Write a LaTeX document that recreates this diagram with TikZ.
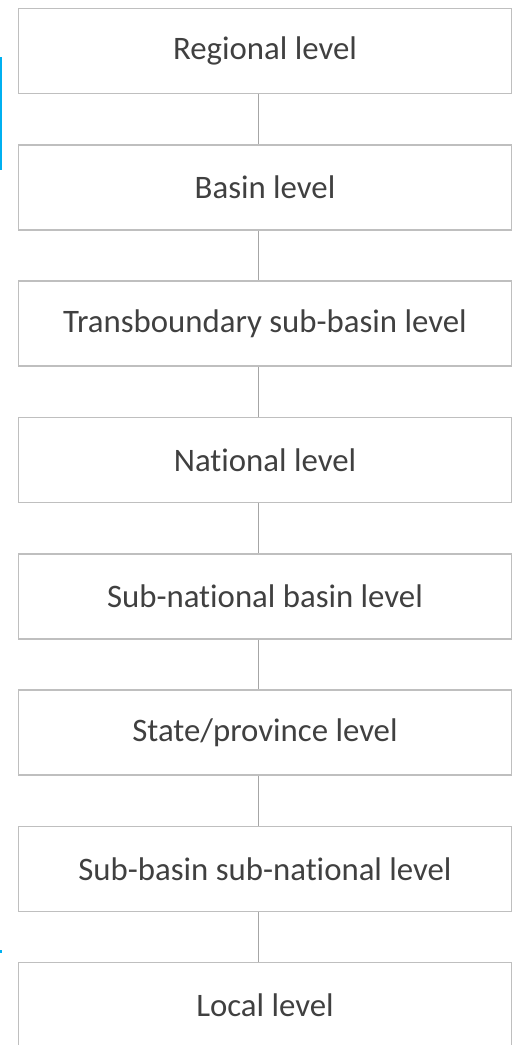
\documentclass[tikz,border=0pt]{standalone}
\usepackage{fontspec}
\setmainfont{Carlito}[Ligatures=NoCommon]
\definecolor{boxline}{HTML}{BFBFBF}
\definecolor{linkline}{HTML}{A6A6A6}
\definecolor{lvltext}{HTML}{404040}
\definecolor{selbar}{HTML}{00B0F0}
\begin{document}
\begin{tikzpicture}[x=1pt,y=-1pt]
  \useasboundingbox (0,0) rectangle (513,1045);
  \tikzset{lvl/.style={draw=boxline,line width=1.6pt,rectangle,minimum width=493pt,minimum height=85pt,
      inner sep=0pt,text=lvltext,font=\fontsize{32.8}{38}\selectfont}}
  \node[lvl] (reg) at (265,51) {Regional level};
  \node[lvl] (bas) at (265,187.3) {Basin level};
  \node[lvl] (tbs) at (265,323.6) {Transboundary sub-basin level};
  \node[lvl] (nat) at (265,459.9) {National level};
  \node[lvl] (snb) at (265,596.2) {Sub-national basin level};
  \node[lvl] (stp) at (265,732.5) {State/province level};
  \node[lvl] (sbs) at (265,868.8) {Sub-basin sub-national level};
  \node[lvl] (loc) at (265,1005.1) {Local level};
  \tikzset{lk/.style={draw=linkline,line width=1.4pt}}
  \draw[lk] ([xshift=-6.5pt]reg.south)--([xshift=-6.5pt]bas.north);
  \draw[lk] ([xshift=-6.5pt]bas.south)--([xshift=-6.5pt]tbs.north);
  \draw[lk] ([xshift=-6.5pt]tbs.south)--([xshift=-6.5pt]nat.north);
  \draw[lk] ([xshift=-6.5pt]nat.south)--([xshift=-6.5pt]snb.north);
  \draw[lk] ([xshift=-6.5pt]snb.south)--([xshift=-6.5pt]stp.north);
  \draw[lk] ([xshift=-6.5pt]stp.south)--([xshift=-6.5pt]sbs.north);
  \draw[lk] ([xshift=-6.5pt]sbs.south)--([xshift=-6.5pt]loc.north);
  % selection marks on the left edge
  \draw[selbar,line width=1.5pt] (0.75,57)--(0.75,170);
  \draw[selbar,line width=1.5pt] (0.75,950)--(0.75,953);
\end{tikzpicture}
\end{document}
